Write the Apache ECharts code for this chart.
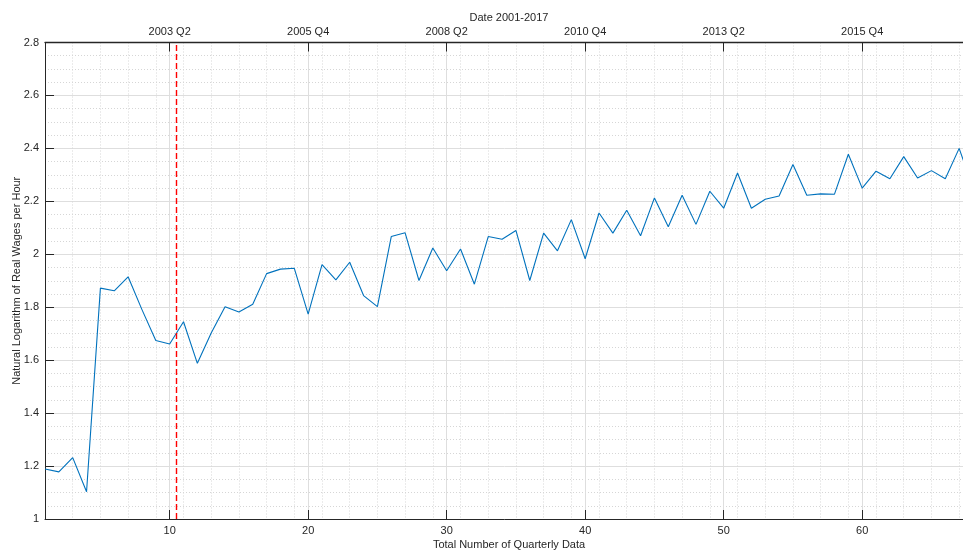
<!DOCTYPE html>
<html>
<head>
<meta charset="utf-8">
<script src="https://cdn.jsdelivr.net/npm/echarts@6/dist/echarts.min.js"></script>
<style>
html,body{margin:0;padding:0;background:#fff;}
#chart{width:963px;height:552px;}
</style>
</head>
<body>
<div id="chart"></div>
<script>
// Quarter index (2001 Q1 = 1 ... 2017 Q4 = 68)
const quarters = [];
for (let i = 1; i <= 68; i++) quarters.push(i);

// Natural log of real wages per hour
const logWages = [
  1.189, 1.178, 1.232, 1.103, 1.872, 1.862, 1.915, 1.791, 1.674, 1.661,
  1.745, 1.588, 1.703, 1.802, 1.782, 1.811, 1.927, 1.944, 1.947, 1.774,
  1.961, 1.903, 1.970, 1.844, 1.802, 2.067, 2.081, 1.901, 2.024, 1.938,
  2.020, 1.887, 2.067, 2.057, 2.090, 1.901, 2.080, 2.013, 2.131, 1.983,
  2.156, 2.080, 2.166, 2.070, 2.213, 2.104, 2.223, 2.113, 2.238, 2.174,
  2.307, 2.174, 2.208, 2.220, 2.339, 2.223, 2.228, 2.227, 2.378, 2.250,
  2.314, 2.285, 2.369, 2.288, 2.316, 2.285, 2.400, 2.250
];

// Tick positions and labels
const bottomTicks = [10, 20, 30, 40, 50, 60];
const topTickLabels = ['2003 Q2', '2005 Q4', '2008 Q2', '2010 Q4', '2013 Q2', '2015 Q4'];
const breakPoint = 10.5;

const seriesData = quarters.map((q, i) => [q, logWages[i]]);

const axisColor = '#262626';
const font = 'Liberation Sans, Arial, Helvetica, sans-serif';

const chart = echarts.init(document.getElementById('chart'), null, {renderer: 'canvas'});
chart.setOption({
  animation: false,
  backgroundColor: '#ffffff',
  textStyle: {fontFamily: font},
  grid: {left: 45, right: -10, top: 42.5, bottom: 33, containLabel: false, outerBoundsMode: 'none'},
  xAxis: [
    {
      type: 'value', position: 'bottom', min: 1, max: 68,
      name: 'Total Number of Quarterly Data', nameLocation: 'middle', nameGap: 20, nameMoveOverlap: false,
      nameTextStyle: {color: axisColor, fontSize: 11, fontFamily: font},
      axisLine: {show: true, onZero: false, lineStyle: {color: axisColor, width: 1}},
      axisTick: {show: true, inside: true, length: 9, customValues: bottomTicks, lineStyle: {color: axisColor}},
      axisLabel: {show: true, customValues: bottomTicks, margin: 6, color: axisColor, fontSize: 11, fontFamily: font},
      splitLine: {show: true, lineStyle: {color: '#dedede', width: 1}}
    },
    {
      type: 'value', position: 'top', min: 1, max: 68,
      name: 'Date 2001-2017', nameLocation: 'middle', nameGap: 19, nameMoveOverlap: false,
      nameTextStyle: {color: axisColor, fontSize: 11, fontFamily: font},
      axisLine: {show: true, onZero: false, lineStyle: {color: axisColor, width: 1.3}},
      axisTick: {show: true, inside: true, length: 9, customValues: bottomTicks, lineStyle: {color: axisColor}},
      axisLabel: {show: true, customValues: bottomTicks, margin: 5, color: axisColor, fontSize: 11, fontFamily: font,
        formatter: v => topTickLabels[bottomTicks.indexOf(Math.round(v))] || ''},
      splitLine: {show: false}
    },
    {
      type: 'value', position: 'bottom', min: 1, max: 68, interval: 2,
      axisLine: {show: false}, axisTick: {show: false}, axisLabel: {show: false},
      splitLine: {show: true, lineStyle: {color: '#d6d6d6', width: 1, type: [1, 2]}}
    }
  ],
  yAxis: [{
    type: 'value', min: 1, max: 2.8, interval: 0.2,
    name: 'Natural Logarithm of Real Wages per Hour', nameLocation: 'middle', nameGap: 23, nameMoveOverlap: false,
    nameTextStyle: {color: axisColor, fontSize: 11, fontFamily: font},
    axisLine: {show: true, onZero: false, lineStyle: {color: axisColor, width: 1}},
    axisTick: {show: true, inside: true, length: 9, lineStyle: {color: axisColor}},
    axisLabel: {color: axisColor, fontSize: 11, fontFamily: font, margin: 6},
    splitLine: {show: true, lineStyle: {color: '#dedede', width: 1}},
    minorTick: {show: false, splitNumber: 4},
    minorSplitLine: {show: true, lineStyle: {color: '#d6d6d6', width: 1, type: [1, 2]}}
  }],
  series: [{
    type: 'line', xAxisIndex: 0, yAxisIndex: 0,
    data: seriesData, showSymbol: false, symbol: 'none',
    lineStyle: {color: '#0072BD', width: 1.1},
    clip: true,
    markLine: {
      silent: true, symbol: ['none', 'none'], label: {show: false},
      lineStyle: {color: '#FF0000', width: 1.4, type: [6, 3]},
      data: [{xAxis: breakPoint}]
    },
    z: 3
  }]
});
</script>
</body>
</html>
